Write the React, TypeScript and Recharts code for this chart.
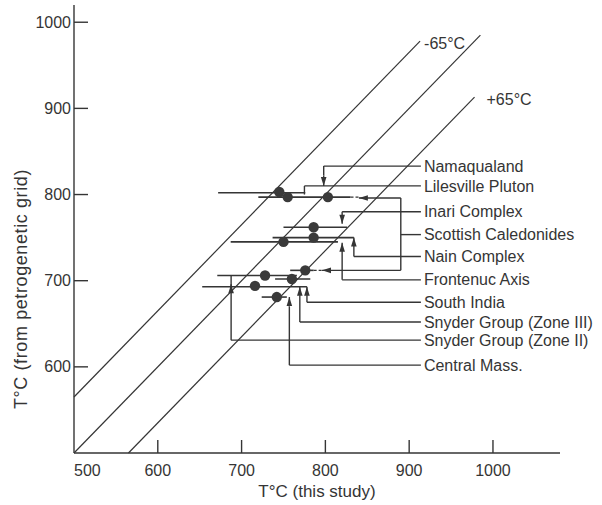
import React from 'react';
import { ScatterChart, Scatter, XAxis, YAxis, ReferenceLine } from 'recharts';

// ----------------------------------------------------------------------
// values (x = T°C this study, y = T°C petrogenetic grid)

const xTicks = [500, 600, 700, 800, 900, 1000];
const yTicks = [600, 700, 800, 900, 1000];

const samples = [
  { x: 745, y: 803 },
  { x: 755, y: 797 },
  { x: 803, y: 797 },
  { x: 786, y: 762 },
  { x: 786, y: 750 },
  { x: 750, y: 745 },
  { x: 776, y: 712 },
  { x: 760, y: 702 },
  { x: 728, y: 706 },
  { x: 716, y: 694 },
  { x: 742, y: 681 },
];

// horizontal uncertainty bars [from, to] at y
const errorBars = [
  { x1: 672, x2: 776, y: 802 },
  { x1: 720, x2: 830, y: 797 },
  { x1: 750, x2: 826, y: 762 },
  { x1: 737, x2: 834, y: 750 },
  { x1: 687, x2: 815, y: 745 },
  { x1: 758, x2: 786, y: 712 },
  { x1: 671, x2: 766, y: 706 },
  { x1: 740, x2: 782, y: 702 },
  { x1: 653, x2: 778, y: 693 },
  { x1: 724, x2: 754, y: 681 },
];

// 1:1 line and the ±65 °C envelope
const isoLines = [
  { name: '-65°C', x1: 500, y1: 565, x2: 913, y2: 978 },
  { name: '', x1: 500, y1: 500, x2: 985, y2: 985 },
  { name: '+65°C', x1: 565, y1: 500, x2: 978, y2: 913 },
];

const localities = [
  'Namaqualand',
  'Lilesville Pluton',
  'Inari Complex',
  'Scottish Caledonides',
  'Nain Complex',
  'Frontenuc Axis',
  'South India',
  'Snyder Group (Zone III)',
  'Snyder Group (Zone II)',
  'Central Mass.',
];
const localityY = [833, 810, 780, 753.5, 728, 701, 675, 652, 631, 602];
const leaderEndX = 914;

// leader lines from each label back to its data
const leaders: number[][][] = [
  [[914, 833], [798, 833], [798, 822]],
  [[914, 810], [775, 810], [775, 800]],
  [[914, 780], [820, 780], [820, 776]],
  [[914, 753.5], [890, 753.5]],
  [[890, 796], [890, 712]],
  [[914, 728], [834, 728], [834, 738]],
  [[914, 701], [820, 701], [820, 732]],
  [[914, 675], [778, 675], [778, 683]],
  [[914, 652], [769.5, 652], [769.5, 683]],
  [[914, 631], [687.5, 631], [687.5, 706]],
  [[914, 602], [757, 602], [757, 670]],
];

// arrow heads: short segments, tip at the second point
const arrows = [
  { x1: 798, y1: 822, x2: 798, y2: 810 },
  { x1: 820, y1: 776, x2: 820, y2: 766 },
  { x1: 890, y1: 796, x2: 840, y2: 796 },
  { x1: 890, y1: 712, x2: 796, y2: 712 },
  { x1: 834, y1: 738, x2: 834, y2: 750 },
  { x1: 820, y1: 732, x2: 820, y2: 744 },
  { x1: 778, y1: 683, x2: 778, y2: 693 },
  { x1: 769.5, y1: 683, x2: 769.5, y2: 693 },
  { x1: 687.5, y1: 686, x2: 687.5, y2: 696 },
  { x1: 757, y1: 670, x2: 757, y2: 681 },
];

const dashedGaps = [
  { x1: 830, x2: 840, y: 797 },
  { x1: 786, x2: 796, y: 712 },
];

// ----------------------------------------------------------------------

const INK = '#353535';
const FONT = '"Liberation Sans", Arial, sans-serif';

const labelPoints = localities.map((name, i) => ({ x: leaderEndX, y: localityY[i], name }));
const isoLabelPoints = isoLines.filter(l => l.name).map(l => ({ x: l.x2, y: l.y2, name: l.name }));

const ArrowLine = (props: any) => {
  const { x1, y1, x2, y2 } = props;
  const ang = Math.atan2(y2 - y1, x2 - x1);
  const len = 9;
  const half = 2.8;
  const bx = x2 - len * Math.cos(ang);
  const by = y2 - len * Math.sin(ang);
  const px = -Math.sin(ang) * half;
  const py = Math.cos(ang) * half;
  return (
    <g>
      <line x1={x1} y1={y1} x2={x2} y2={y2} stroke={INK} strokeWidth={1.4} />
      <polygon points={`${x2},${y2} ${bx + px},${by + py} ${bx - px},${by - py}`} fill={INK} />
    </g>
  );
};

const XTick = (props: any) => {
  const { x, y, payload } = props;
  const first = payload.value === xTicks[0];
  return (
    <g>
      {!first && <line x1={x} y1={y} x2={x} y2={y - 13} stroke={INK} strokeWidth={1.4} />}
      <text x={x} y={y + 17} dy='0.35em' textAnchor={first ? 'start' : 'middle'} fill={INK} fontSize={16} fontFamily={FONT}>
        {payload.value}
      </text>
    </g>
  );
};

const YTick = (props: any) => {
  const { x, y, payload } = props;
  return (
    <g>
      <line x1={x} y1={y} x2={x + 14} y2={y} stroke={INK} strokeWidth={1.4} />
      <text x={x - 3} y={y} dy='0.35em' textAnchor='end' fill={INK} fontSize={16} fontFamily={FONT}>
        {payload.value}
      </text>
    </g>
  );
};

const YTitle = (props: any) => {
  const vb = props.viewBox || { x: 0, y: 5, width: 74, height: 448 };
  const cx = vb.x + 21;
  const cy = vb.y + vb.height * 0.634;
  return (
    <text
      x={cx}
      y={cy}
      dy='0.35em'
      textAnchor='middle'
      transform={`rotate(-90 ${cx} ${cy})`}
      fill={INK}
      fontSize={18}
      letterSpacing={0.6}
      fontFamily={FONT}
    >
      T°C (from  petrogenetic  grid)
    </text>
  );
};

export default function App() {
  return (
    <div style={{ position: 'absolute', left: 0, top: 0, width: 602, height: 505, background: '#fff' }}>
      <ScatterChart width={602} height={505} margin={{ top: 5, right: 42, bottom: 0, left: 0 }}>
        <XAxis
          type='number'
          dataKey='x'
          domain={[500, 1080]}
          ticks={xTicks}
          height={52}
          tickSize={0}
          tickMargin={0}
          tickLine={false}
          axisLine={{ stroke: INK, strokeWidth: 1.4 }}
          tick={<XTick />}
          label={{ value: 'T°C (this study)', position: 'insideBottom', offset: 8, fill: INK, fontSize: 17, fontFamily: FONT }}
        />
        <YAxis
          type='number'
          dataKey='y'
          domain={[500, 1020]}
          ticks={yTicks}
          width={74}
          tickSize={0}
          tickMargin={0}
          tickLine={false}
          axisLine={{ stroke: INK, strokeWidth: 1.4 }}
          tick={<YTick />}
          label={YTitle}
        />

        {isoLines.map((l, i) => (
          <ReferenceLine
            key={`iso${i}`}
            segment={[{ x: l.x1, y: l.y1 }, { x: l.x2, y: l.y2 }]}
            stroke={INK}
            strokeWidth={1.2}
            ifOverflow='visible'
          />
        ))}

        {errorBars.map((b, i) => (
          <ReferenceLine
            key={`err${i}`}
            segment={[{ x: b.x1, y: b.y }, { x: b.x2, y: b.y }]}
            stroke={INK}
            strokeWidth={1.6}
            ifOverflow='visible'
          />
        ))}

        {dashedGaps.map((b, i) => (
          <ReferenceLine
            key={`gap${i}`}
            segment={[{ x: b.x1, y: b.y }, { x: b.x2, y: b.y }]}
            stroke={INK}
            strokeWidth={1.4}
            strokeDasharray='3 2'
            ifOverflow='visible'
          />
        ))}

        {leaders.flatMap((path, i) =>
          path.slice(1).map((p, j) => (
            <ReferenceLine
              key={`lead${i}-${j}`}
              segment={[{ x: path[j][0], y: path[j][1] }, { x: p[0], y: p[1] }]}
              stroke={INK}
              strokeWidth={1.4}
              ifOverflow='visible'
            />
          ))
        )}

        {arrows.map((a, i) => (
          <ReferenceLine
            key={`arr${i}`}
            segment={[{ x: a.x1, y: a.y1 }, { x: a.x2, y: a.y2 }]}
            ifOverflow='visible'
            shape={ArrowLine}
          />
        ))}

        <Scatter
          name='samples'
          data={samples}
          isAnimationActive={false}
          shape={(p: any) => <circle cx={p.cx} cy={p.cy} r={5.2} fill='#3a3a3a' />}
        />

        <Scatter
          name='localities'
          data={labelPoints}
          isAnimationActive={false}
          shape={(p: any) => (
            <text x={p.cx + 3} y={p.cy} dy='0.35em' fill={INK} fontSize={16} fontFamily={FONT}>
              {p.payload.name}
            </text>
          )}
        />

        <Scatter
          name='envelope'
          data={isoLabelPoints}
          isAnimationActive={false}
          shape={(p: any) => (
            <text x={p.cx + (p.payload.name.startsWith('+') ? 12 : 4)} y={p.cy + 2} dy='0.35em' fill={INK} fontSize={16} fontFamily={FONT}>
              {p.payload.name}
            </text>
          )}
        />
      </ScatterChart>
    </div>
  );
}
